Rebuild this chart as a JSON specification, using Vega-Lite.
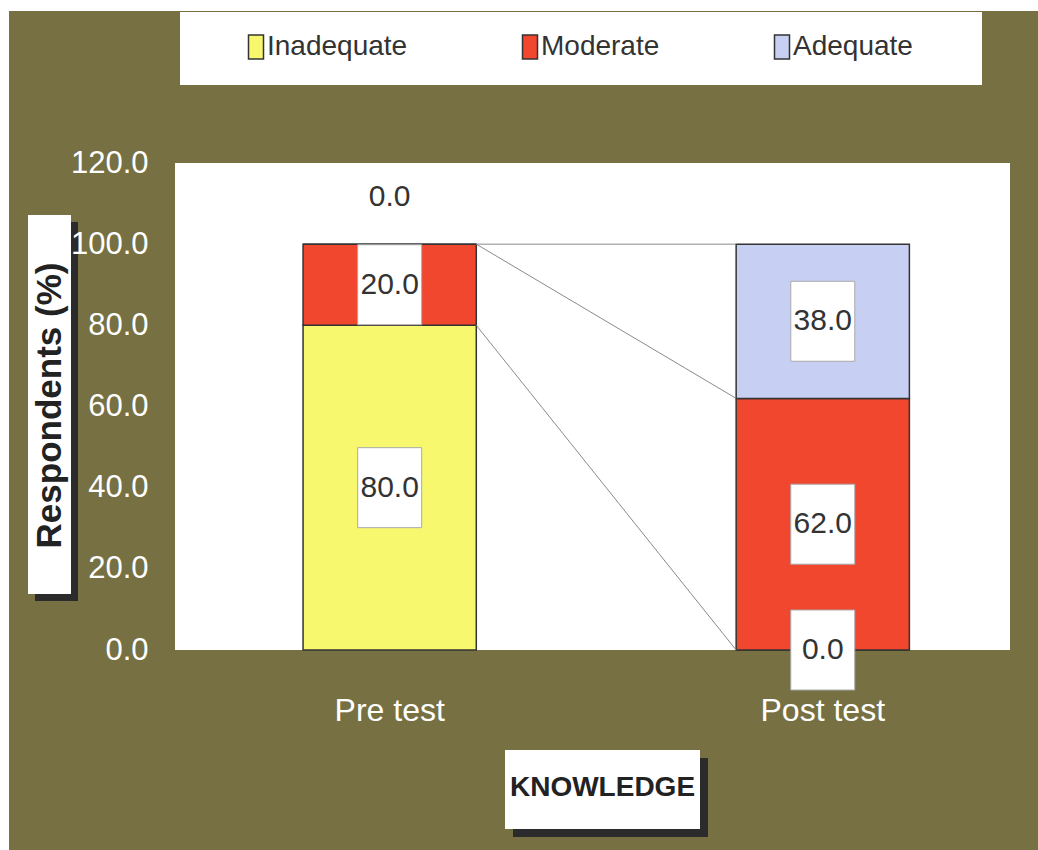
{
  "$schema": "https://vega.github.io/schema/vega-lite/v6.json",
  "width": 835,
  "height": 487,
  "autosize": {"type": "none"},
  "padding": {"left": 175, "top": 163, "right": 28, "bottom": 200},
  "background": "#767043",
  "view": {"fill": "white", "stroke": null},
  "config": {"font": "Liberation Sans"},
  "data": {
    "values": [
      {"test": "Pre test", "level": "Inadequate", "value": 80},
      {"test": "Pre test", "level": "Moderate", "value": 20},
      {"test": "Pre test", "level": "Adequate", "value": 0},
      {"test": "Post test", "level": "Inadequate", "value": 0},
      {"test": "Post test", "level": "Moderate", "value": 62},
      {"test": "Post test", "level": "Adequate", "value": 38}
    ]
  },
  "transform": [
    {"calculate": "indexof(['Inadequate','Moderate','Adequate'], datum.level)", "as": "rank"},
    {"stack": "value", "groupby": ["test"], "sort": [{"field": "rank", "order": "ascending"}], "as": ["y0", "y1"]},
    {"calculate": "(datum.y0 + datum.y1) / 2", "as": "mid"},
    {"calculate": "datum.value === 0 && datum.y1 === 100", "as": "outside"}
  ],
  "resolve": {"scale": {"strokeDash": "independent"}, "legend": {"strokeDash": "independent"}},
  "layer": [
    {
      "mark": {"type": "rule", "opacity": 0},
      "encoding": {
        "y": {"datum": 0, "type": "quantitative"},
        "strokeDash": {
          "datum": "frameTop", "scale": {"range": [[1, 0]]},
          "legend": {
            "orient": "none", "legendX": -175, "legendY": -163, "zindex": 0,
            "title": " ", "titleOrient": "left", "titleFontSize": 18, "titlePadding": 1031,
            "labelExpr": "''", "labelFontSize": 1, "symbolSize": 0, "symbolOpacity": 0, "symbolStrokeWidth": 0,
            "fillColor": "white", "padding": 1
          }
        }
      }
    },
    {
      "mark": {"type": "rule", "opacity": 0},
      "encoding": {
        "y": {"datum": 0, "type": "quantitative"},
        "strokeDash": {
          "datum": "frameLeft", "scale": {"range": [[1, 0]]},
          "legend": {
            "orient": "none", "legendX": -175, "legendY": -163, "zindex": 0,
            "title": " ", "titleOrient": "top", "titleFontSize": 4, "titlePadding": 842,
            "labelExpr": "''", "labelFontSize": 1, "symbolSize": 0, "symbolOpacity": 0, "symbolStrokeWidth": 0,
            "fillColor": "white", "padding": 2
          }
        }
      }
    },
    {
      "mark": {"type": "rule", "opacity": 0},
      "encoding": {
        "y": {"datum": 0, "type": "quantitative"},
        "strokeDash": {
          "datum": "box0", "scale": {"range": [[1, 0]]},
          "legend": {
            "orient": "none", "legendX": 5, "legendY": -151, "zindex": 0,
            "title": " ", "titleOrient": "left", "titleFontSize": 18, "titlePadding": 733,
            "labelExpr": "''", "labelFontSize": 1, "symbolSize": 0, "symbolOpacity": 0, "symbolStrokeWidth": 0,
            "fillColor": "white", "padding": 32
          }
        }
      }
    },
    {
      "mark": {"type": "rule", "opacity": 0},
      "encoding": {
        "y": {"datum": 0, "type": "quantitative"},
        "strokeDash": {
          "datum": "shadow1", "scale": {"range": [[1, 0]]},
          "legend": {
            "orient": "none", "legendX": -140, "legendY": 59, "zindex": 0,
            "title": " ", "titleOrient": "top", "titleFontSize": 4, "titlePadding": 336,
            "labelExpr": "''", "labelFontSize": 1, "symbolSize": 0, "symbolOpacity": 0, "symbolStrokeWidth": 0,
            "fillColor": "#2b2b2b", "padding": 19
          }
        }
      }
    },
    {
      "mark": {"type": "rule", "opacity": 0},
      "encoding": {
        "y": {"datum": 0, "type": "quantitative"},
        "strokeDash": {
          "datum": "box1", "scale": {"range": [[1, 0]]},
          "legend": {
            "orient": "none", "legendX": -147, "legendY": 52, "zindex": 1,
            "title": " ", "titleOrient": "top", "titleFontSize": 4, "titlePadding": 336,
            "labelExpr": "''", "labelFontSize": 1, "symbolSize": 0, "symbolOpacity": 0, "symbolStrokeWidth": 0,
            "fillColor": "white", "padding": 19
          }
        }
      }
    },
    {
      "mark": {"type": "rule", "opacity": 0},
      "encoding": {
        "y": {"datum": 0, "type": "quantitative"},
        "strokeDash": {
          "datum": "shadow2", "scale": {"range": [[1, 0]]},
          "legend": {
            "orient": "none", "legendX": 338, "legendY": 595, "zindex": 0,
            "title": " ", "titleOrient": "left", "titleFontSize": 18, "titlePadding": 120,
            "labelExpr": "''", "labelFontSize": 1, "symbolSize": 0, "symbolOpacity": 0, "symbolStrokeWidth": 0,
            "fillColor": "#2b2b2b", "padding": 35
          }
        }
      }
    },
    {
      "mark": {"type": "rule", "opacity": 0},
      "encoding": {
        "y": {"datum": 0, "type": "quantitative"},
        "strokeDash": {
          "datum": "box2", "scale": {"range": [[1, 0]]},
          "legend": {
            "orient": "none", "legendX": 330, "legendY": 587, "zindex": 1,
            "title": " ", "titleOrient": "left", "titleFontSize": 18, "titlePadding": 120,
            "labelExpr": "''", "labelFontSize": 1, "symbolSize": 0, "symbolOpacity": 0, "symbolStrokeWidth": 0,
            "fillColor": "white", "padding": 35
          }
        }
      }
    },
    {
      "mark": {"type": "bar", "stroke": "#333333", "strokeWidth": 1.5},
      "encoding": {
        "x": {
          "field": "test", "type": "nominal",
          "scale": {"domain": ["Pre test", "Post test"], "paddingInner": 0.6, "paddingOuter": 0.264, "align": 0.56},
          "axis": {
            "labelColor": "white", "labelFontSize": 32, "labelPadding": 45, "ticks": false, "domain": false, "labelAngle": 0, "grid": false, "zindex": 2,
            "title": "KNOWLEDGE", "titleFontSize": 28, "titleFontWeight": "bold", "titleColor": "#222222", "titleX": 427, "titleY": 137, "titleBaseline": "middle", "titleAlign": "center", "titleAnchor": null
          }
        },
        "y": {
          "field": "y0", "type": "quantitative",
          "scale": {"domain": [0, 120], "nice": false},
          "axis": {
            "values": [0, 20, 40, 60, 80, 100, 120], "format": ".1f", "labelColor": "white", "labelFontSize": 31, "labelPadding": 27, "ticks": false, "domain": false, "grid": false, "zindex": 2,
            "title": "Respondents (%)", "titleFontSize": 35, "titleFontWeight": "bold", "titleColor": "#222222", "titleX": -126, "titleY": 242, "titleAngle": 270, "titleBaseline": "middle", "titleAlign": "center"
          }
        },
        "y2": {"field": "y1"},
        "color": {
          "field": "level", "type": "nominal",
          "scale": {"domain": ["Inadequate", "Moderate", "Adequate"], "range": ["#f8f86e", "#f2472f", "#c7d0f2"]},
          "legend": {
            "orient": "none", "legendX": 5, "legendY": -151, "direction": "horizontal", "zindex": 1,
            "title": " ", "titleOrient": "left", "titleFontSize": 6, "titlePadding": 41,
            "padding": 21, "gridAlign": "none",
            "labelFontSize": 28, "labelColor": "#333333", "labelOffset": -3, "columnPadding": 108,
            "symbolType": "M-1,-1.6H1V1.6H-1Z", "symbolSize": 225, "symbolStrokeColor": "#333333", "symbolStrokeWidth": 1.5
          }
        }
      }
    },
    {
      "transform": [{"pivot": "test", "value": "y1", "groupby": ["level"]}],
      "mark": {"type": "rule", "color": "#8a8a8a", "strokeWidth": 1},
      "encoding": {
        "x": {"datum": "Pre test", "bandPosition": 1},
        "x2": {"datum": "Post test", "bandPosition": 0},
        "y": {"field": "Pre test", "type": "quantitative"},
        "y2": {"field": "Post test"}
      }
    },
    {
      "transform": [{"filter": "!datum.outside"}],
      "mark": {"type": "point", "filled": true, "fill": "white", "stroke": "#aaaaaa", "strokeWidth": 1, "size": 6400, "opacity": 1, "shape": "M-0.8,-1H0.8V1H-0.8Z"},
      "encoding": {
        "x": {"field": "test", "type": "nominal"},
        "y": {"field": "mid", "type": "quantitative"}
      }
    },
    {
      "transform": [{"filter": "!datum.outside"}],
      "mark": {"type": "text", "fontSize": 30, "color": "#333333"},
      "encoding": {
        "x": {"field": "test", "type": "nominal"},
        "y": {"field": "mid", "type": "quantitative"},
        "text": {"field": "value", "type": "quantitative", "format": ".1f"}
      }
    },
    {
      "transform": [{"filter": "datum.outside"}],
      "mark": {"type": "text", "fontSize": 30, "color": "#333333", "dy": -47},
      "encoding": {
        "x": {"field": "test", "type": "nominal"},
        "y": {"field": "mid", "type": "quantitative"},
        "text": {"field": "value", "type": "quantitative", "format": ".1f"}
      }
    }
  ]
}
